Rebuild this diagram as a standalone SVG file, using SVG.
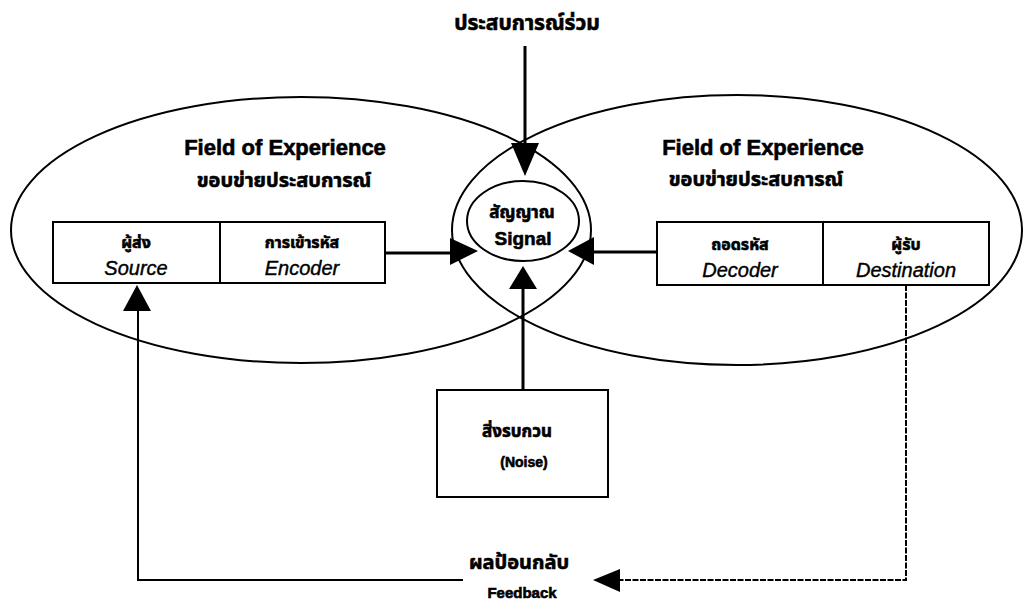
<svg xmlns="http://www.w3.org/2000/svg" width="1029" height="605" viewBox="0 0 1029 605">
<style>
.ln{fill:none;stroke:#000;stroke-width:2}
.th{stroke-width:3}
.box{fill:none;stroke:#000;stroke-width:2}
.t{font-family:"Liberation Sans","Noto Sans Thai","Noto Sans",sans-serif;fill:#000;text-anchor:middle}
.b{font-weight:bold;stroke:#000;stroke-width:0.6}
.i{font-style:italic;stroke:#000;stroke-width:0.4}
.ah{fill:#000}
</style>
<rect width="1029" height="605" fill="#fff"/>
<g id="field-left">
<ellipse class="ln" cx="301" cy="230" rx="290" ry="133"/>
<text class="t b" x="285" y="155" font-size="22">Field of Experience</text>
<text class="t b" x="284" y="187" font-size="20">ขอบข่ายประสบการณ์</text>
</g>
<g id="field-right">
<ellipse class="ln" cx="737" cy="230" rx="285" ry="135"/>
<text class="t b" x="763" y="155" font-size="22">Field of Experience</text>
<text class="t b" x="756" y="186" font-size="20">ขอบข่ายประสบการณ์</text>
</g>
<g id="shared-label">
<text class="t b" x="527" y="30" font-size="21">ประสบการณ์ร่วม</text>
</g>
<g id="signal">
<ellipse class="ln" cx="523" cy="221" rx="56" ry="40" stroke-width="2.5"/>
<text class="t b" x="522" y="218" font-size="17">สัญญาณ</text>
<text class="t b" x="523" y="245" font-size="19">Signal</text>
</g>
<g id="source">
<rect class="box" x="53" y="222" width="167" height="61"/>
<text class="t b" x="136" y="248" font-size="16">ผู้ส่ง</text>
<text class="t i" x="136" y="275" font-size="20">Source</text>
</g>
<g id="encoder">
<rect class="box" x="220" y="222" width="165" height="61"/>
<text class="t b" x="302" y="248" font-size="16">การเข้ารหัส</text>
<text class="t i" x="302" y="275" font-size="20">Encoder</text>
</g>
<g id="decoder">
<rect class="box" x="657" y="222" width="166" height="63"/>
<text class="t b" x="740" y="250" font-size="16">ถอดรหัส</text>
<text class="t i" x="740" y="277" font-size="20">Decoder</text>
</g>
<g id="destination">
<rect class="box" x="823" y="222" width="166" height="63"/>
<text class="t b" x="906" y="250" font-size="16">ผู้รับ</text>
<text class="t i" x="906" y="277" font-size="20">Destination</text>
</g>
<g id="noise">
<rect class="box" x="437" y="390" width="171" height="107"/>
<text class="t b" x="517" y="437" font-size="17">สิ่งรบกวน</text>
<text class="t b" x="524" y="467" font-size="14">(Noise)</text>
</g>
<g id="feedback-label">
<text class="t b" x="519" y="569" font-size="20">ผลป้อนกลับ</text>
<text class="t b" x="522" y="598" font-size="15">Feedback</text>
</g>
<g id="connectors">
<line class="ln th" x1="525" y1="46" x2="525" y2="145"/>
<polygon class="ah" points="511,143 539,143 525,176"/>
<line class="ln th" x1="385" y1="253" x2="452" y2="253"/>
<polygon class="ah" points="450,238 478,251 450,265"/>
<line class="ln th" x1="657" y1="252" x2="592" y2="252"/>
<polygon class="ah" points="594,237 568,251 594,265"/>
<line class="ln th" x1="523" y1="390" x2="523" y2="288"/>
<polygon class="ah" points="509,289 537,289 523,266"/>
<polyline class="ln" stroke-dasharray="6,1.5" points="906,285 906,580 620,580"/>
<polygon class="ah" points="620,569 593,580 620,592"/>
<polyline class="ln" stroke-width="2.5" points="463,580 138,580 138,310"/>
<polygon class="ah" points="123,311 151,311 137,285"/>
</g>
</svg>
